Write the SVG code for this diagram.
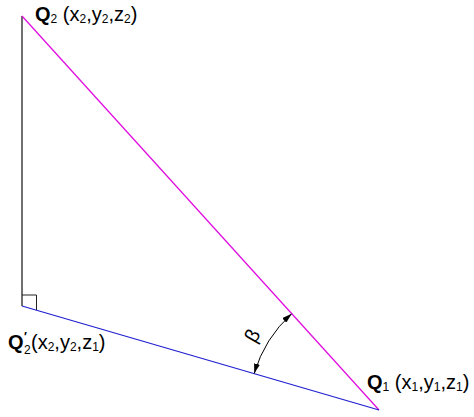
<svg xmlns="http://www.w3.org/2000/svg" width="474" height="417" viewBox="0 0 474 417">
<style>
.lbl{font-family:"Liberation Sans",Arial,sans-serif;font-size:20px;fill:#000}
.q{font-weight:bold;font-size:20px}
.s{font-size:12px}
</style>
<defs>
<marker id="ah" viewBox="0 0 10 6" refX="10" refY="3" markerWidth="10" markerHeight="6" markerUnits="userSpaceOnUse" orient="auto-start-reverse">
<path d="M0,0 L10,3 L0,6 Z" fill="#000"/>
</marker>
</defs>
<rect width="474" height="417" fill="#fff"/>
<g id="connectors" fill="none" stroke-width="1.3">
<line id="edge-q2-q2p" x1="22" y1="16" x2="22" y2="306" stroke="#222"/>
<line id="edge-q2-q1" x1="22" y1="16" x2="379" y2="410" stroke="#e010e0"/>
<line id="edge-q2p-q1" x1="22" y1="306" x2="379" y2="410" stroke="#2020d0"/>
<path id="right-angle" d="M22,295 H36.5 V310" stroke="#222" stroke-width="1"/>
<path id="angle-arc" d="M291.7,313.7 A130,130 0 0 0 254.2,373.6" stroke="#000" stroke-width="1" marker-start="url(#ah)" marker-end="url(#ah)"/>
</g>
<g id="node-q2"><text class="lbl" x="35" y="21"><tspan class="q">Q</tspan><tspan class="s" dy="2">2</tspan><tspan dy="-2"> (x</tspan><tspan class="s" dy="2">2</tspan><tspan dy="-2">,y</tspan><tspan class="s" dy="2">2</tspan><tspan dy="-2">,z</tspan><tspan class="s" dy="2">2</tspan><tspan dy="-2">)</tspan></text></g>
<g id="node-q2p">
<text class="lbl q" x="8" y="349">Q</text>
<text class="lbl" x="24" y="341" style="font-size:12px;font-weight:bold">′</text>
<text class="lbl s" x="24" y="354">2</text>
<text class="lbl" x="31" y="349">(x<tspan class="s" dy="2">2</tspan><tspan dy="-2">,y</tspan><tspan class="s" dy="2">2</tspan><tspan dy="-2">,z</tspan><tspan class="s" dy="2">1</tspan><tspan dy="-2">)</tspan></text>
</g>
<g id="node-q1"><text class="lbl" x="367" y="389"><tspan class="q">Q</tspan><tspan class="s" dy="2">1</tspan><tspan dy="-2"> (x</tspan><tspan class="s" dy="2">1</tspan><tspan dy="-2">,y</tspan><tspan class="s" dy="2">1</tspan><tspan dy="-2">,z</tspan><tspan class="s" dy="2">1</tspan><tspan dy="-2">)</tspan></text></g>
<g id="angle-label"><text class="lbl" x="0" y="0" text-anchor="middle" transform="translate(258,339) rotate(-60)">β</text></g>
</svg>
